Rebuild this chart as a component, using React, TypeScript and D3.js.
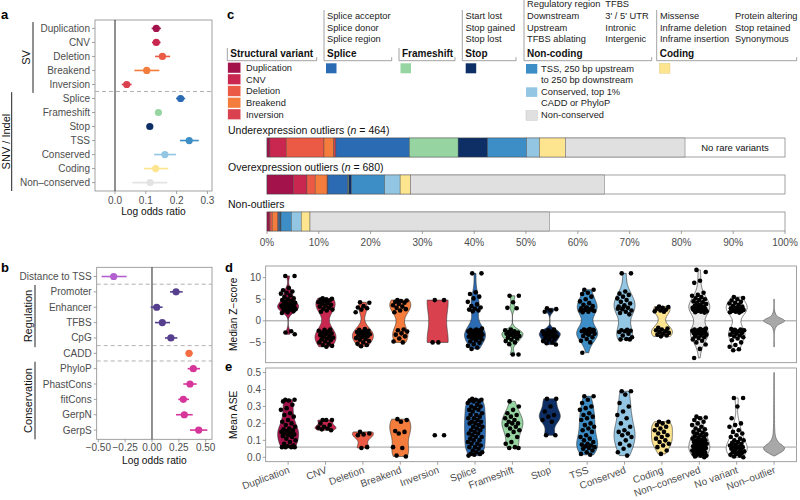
import React from "react";
import * as d3 from "d3";

const FONT = "'Liberation Sans', Arial, Helvetica, sans-serif";
const TXT = "#4d4d4d";

// ---------- panel a: log odds ratio, SV / SNV ----------
const aCats = ["Duplication", "CNV", "Deletion", "Breakend", "Inversion", "Splice", "Frameshift", "Stop", "TSS", "Conserved", "Coding", "Non\u2013conserved"];
const aEst = [0.134, 0.134, 0.154, 0.103, 0.038, 0.213, 0.141, 0.113, 0.241, 0.162, 0.132, 0.114];
const aLow = [0.119, 0.12, 0.13, 0.063, 0.022, 0.198, 0.133, 0.105, 0.211, 0.127, 0.094, 0.056];
const aHigh = [0.149, 0.148, 0.179, 0.144, 0.054, 0.228, 0.149, 0.121, 0.272, 0.198, 0.173, 0.17];
const aTicks = [0, 0.1, 0.2, 0.3];

// ---------- panel b: log odds ratio, annotations ----------
const bCats = ["Distance to TSS", "Promoter", "Enhancer", "TFBS", "CpG", "CADD", "PhyloP", "PhastCons", "fitCons", "GerpN", "GerpS"];
const bEst = [-0.357, 0.224, 0.044, 0.096, 0.176, 0.345, 0.385, 0.354, 0.292, 0.301, 0.435];
const bLow = [-0.469, 0.168, -0.012, 0.028, 0.121, 0.314, 0.332, 0.292, 0.245, 0.224, 0.354];
const bHigh = [-0.236, 0.286, 0.099, 0.168, 0.236, 0.379, 0.447, 0.416, 0.345, 0.379, 0.516];
const bColors = ["#b35fd0", "#553f8e", "#553f8e", "#553f8e", "#553f8e", "#f46d43", "#d6359a", "#d6359a", "#d6359a", "#d6359a", "#d6359a"];
const bTicks = [-0.5, -0.25, 0, 0.25, 0.5];

// ---------- panel c: stacked proportions (%) ----------
const varCats = ["Duplication", "CNV", "Deletion", "Breakend", "Inversion", "Splice", "Frameshift", "Stop", "TSS", "Conserved", "Coding", "Non-conserved"];
const varColors = ["#a3124a", "#c9274f", "#ea5a45", "#f47c3c", "#d9414f", "#2a6bb3", "#96d5a2", "#0d2f66", "#3d8ec6", "#93c6e3", "#fde48f", "#e0e0e0"];
const underPct = [0.56, 3.14, 7.3, 1.9, 0.4, 14.2, 9.4, 5.7, 7.5, 2.5, 5.0, 23.1];
const overPct = [5.1, 2.6, 1.6, 2.3, 0.15, 3.85, 0.2, 0.5, 6.4, 3.0, 2.0, 37.4];
const nonPct = [0.4, 0.2, 0.4, 1.1, 0.1, 0.3, 0.1, 0.1, 2.0, 1.9, 1.7, 46.2];
const pctTicks = [0, 10, 20, 30, 40, 50, 60, 70, 80, 90, 100];

// ---------- panels d / e ----------
const vCats = ["Duplication", "CNV", "Deletion", "Breakend", "Inversion", "Splice", "Frameshift", "Stop", "TSS", "Conserved", "Coding", "Non\u2013conserved", "No variant", "Non\u2013outlier"];
const vColors = ["#a3124a", "#c9274f", "#ea5a45", "#f47c3c", "#d9414f", "#2a6bb3", "#96d5a2", "#0d2f66", "#3d8ec6", "#93c6e3", "#fde48f", "#e8e8e8", "#ffffff", "#a8a8a8"];

const zDup = [10.4, 10.4, 7.6, 7.1, 6.8, 6.5, 6.3, 5.9, 5.5, 5.2, 5.0, 4.8, 4.6, 4.4, 4.2, 4.0, 3.9, 3.7, 3.6, 3.5, 3.4, 3.3, 3.2, 3.1, 3.0, 2.9, 2.8, 2.7, 2.6, 2.4, 2.2, 2.0, 1.8, -2.4, -2.7, -3.1];
const zCnv = [5.2, 5.1, 5.0, 4.9, 4.7, 4.5, 4.3, 4.1, 3.9, 3.7, 3.5, 3.3, 3.0, 2.8, 2.6, 2.4, 2.1, -2.0, -2.1, -2.3, -2.5, -2.7, -2.9, -3.1, -3.3, -3.5, -3.7, -3.9, -4.1, -4.3, -4.5, -4.8, -5.0, -5.3, -5.6, -5.8, -6.0];
const zDel = [4.3, 4.2, 3.4, 3.1, 2.9, 2.6, 2.0, -1.9, -2.1, -2.3, -2.5, -2.6, -2.8, -2.9, -3.1, -3.3, -3.4, -3.6, -3.8, -4.0, -4.2, -4.4, -4.7, -5.0, -5.3, -5.6, -5.9];
const zBrk = [4.8, 4.7, 4.6, 4.4, 4.2, 3.9, 3.6, 3.3, 3.0, 2.7, 2.4, 2.0, -2.0, -2.2, -2.5, -2.9, -3.2, -3.6, -4.1, -4.8, -5.0];
const zInv = [4.8, 4.8, -5.0, -5.0];
const zSplice = [11.0, 11.0, 6.6, 6.2, 5.6, 5.2, 4.4, 3.8, 3.4, 3.1, 2.8, 2.6, 2.4, 2.2, -1.8, -2.0, -2.1, -2.2, -2.3, -2.4, -2.5, -2.6, -2.7, -2.8, -2.9, -3.0, -3.1, -3.2, -3.3, -3.4, -3.5, -3.6, -3.7, -3.9, -4.1, -4.3, -4.5, -4.8, -5.1, -5.4, -5.8, -6.2, -6.5];
const zFrame = [5.8, 5.8, 4.3, 3.0, 2.9, -2.0, -2.2, -2.4, -2.6, -2.7, -2.9, -3.0, -3.2, -3.3, -3.5, -3.7, -3.9, -4.1, -4.4, -4.7, -5.0, -5.4, -7.8, -7.8];
const zStop = [2.9, 2.7, 2.4, 2.1, -2.0, -2.2, -2.4, -2.5, -2.7, -2.8, -3.0, -3.1, -3.3, -3.4, -3.6, -3.8, -4.0, -4.2, -4.4, -4.7, -5.0, -5.2, -5.5];
const zTss = [7.2, 7.2, 6.5, 6.2, 5.6, 5.0, 4.5, 4.1, 3.7, 3.4, 3.1, 2.9, 2.7, 2.5, 2.3, 2.1, 2.0, 2.6, 3.0, 2.4, -1.9, -2.0, -2.1, -2.2, -2.4, -2.6, -2.8, -3.0, -3.2, -3.5, -3.8, -4.2, -4.6, -5.0, -2.5, -2.3, -3.1, -7.4];
const zCons = [11.0, 11.0, 6.8, 6.3, 6.0, 5.6, 5.2, 4.8, 4.4, 4.0, 3.6, 3.3, 3.0, 2.7, 2.4, 2.1, 1.8, 1.5, 3.2, 2.8, -2.1, -2.2, -2.3, -2.4, -2.6, -3.0, -3.4, -3.8, -4.2, -4.3, -4.3];
const zCoding = [3.3, 3.2, 3.0, 2.8, 2.6, 2.4, 2.2, 2.1, -1.6, -1.8, -2.0, -2.2, -2.4, -2.6, -2.8, -3.0, -3.2, -3.4, -3.6];
const zNoncons = [11.8, 11.3, 9.3, 8.8, 6.5, 6.0, 5.8, 5.5, 5.2, 5.0, 4.8, 4.5, 4.3, 4.1, 3.9, 3.7, 3.5, 3.3, 3.2, 3.0, 2.9, 2.8, 2.7, 2.6, 2.5, 2.4, 2.3, 2.2, 2.1, 2.0, 1.9, 2.5, 2.7, 3.1, 2.4, -1.8, -1.9, -2.0, -2.1, -2.2, -2.3, -2.4, -2.5, -2.6, -2.7, -2.8, -2.9, -3.0, -3.2, -3.4, -3.6, -3.8, -4.0, -4.3, -4.6, -5.0, -5.5, -6.5, -8.6, -2.2, -2.5];
const zNovar = [5.5, 5.3, 5.0, 4.7, 4.4, 4.2, 4.0, 3.7, 3.5, 3.3, 3.1, 2.9, 2.7, 2.6, 2.5, 2.4, 2.3, 2.2, 2.1, 2.0, 1.9, 2.5, 2.8, 3.0, -1.9, -2.0, -2.1, -2.2, -2.4, -2.6, -2.8, -3.0, -3.2, -3.4, -3.6, -3.8, -4.1, -4.5, -5.0, -5.6, -6.0, -6.6, -6.8, -2.3, -2.7];
// non-outliers: density profile only (value, relative width)
const zNonOutlier: [number, number][] = [[-6, 0.03], [-2.5, 0.04], [-1.2, 0.25], [0, 1], [1.2, 0.25], [2.5, 0.04], [5, 0.03]];

const eDup = [0.34, 0.34, 0.335, 0.33, 0.31, 0.29, 0.28, 0.26, 0.25, 0.24, 0.22, 0.21, 0.2, 0.19, 0.18, 0.17, 0.165, 0.16, 0.155, 0.15, 0.145, 0.14, 0.135, 0.13, 0.125, 0.12, 0.11, 0.1, 0.09, 0.08, 0.07, 0.065, 0.06, 0.06, 0.06, 0.06];
const eCnv = [0.22, 0.22, 0.22, 0.2, 0.19, 0.18, 0.175, 0.17, 0.165, 0.16];
const eDel = [0.15, 0.14, 0.135, 0.13, 0.06, 0.055];
const eBrk = [0.225, 0.22, 0.21, 0.155, 0.15, 0.14, 0.06, 0.055, 0.01, 0.005];
const eInv = [0.13, 0.13];
const eSplice = [0.345, 0.34, 0.34, 0.335, 0.33, 0.33, 0.32, 0.31, 0.3, 0.3, 0.29, 0.28, 0.28, 0.27, 0.26, 0.25, 0.25, 0.24, 0.23, 0.23, 0.22, 0.21, 0.21, 0.2, 0.2, 0.19, 0.18, 0.18, 0.17, 0.16, 0.16, 0.15, 0.14, 0.14, 0.13, 0.12, 0.12, 0.11, 0.1, 0.1, 0.09, 0.08, 0.08, 0.07, 0.06, 0.06, 0.05, 0.04, 0.03, 0.03, 0.02, 0.02, 0.015, 0.01];
const eFrame = [0.33, 0.3, 0.28, 0.26, 0.25, 0.24, 0.23, 0.22, 0.21, 0.2, 0.2, 0.19, 0.18, 0.17, 0.16, 0.15, 0.13, 0.12, 0.09, 0.08, 0.06, 0.055, 0.055];
const eStop = [0.345, 0.345, 0.3, 0.27, 0.25, 0.24, 0.22, 0.21, 0.13, 0.13];
const eTss = [0.36, 0.36, 0.34, 0.32, 0.3, 0.29, 0.28, 0.26, 0.25, 0.24, 0.23, 0.22, 0.2, 0.19, 0.18, 0.17, 0.16, 0.15, 0.13, 0.12, 0.11, 0.1, 0.09, 0.08, 0.075, 0.07, 0.065, 0.06, 0.055, 0.05, 0.04, 0.03, 0.02, 0.015];
const eCons = [0.39, 0.39, 0.37, 0.32, 0.3, 0.27, 0.25, 0.23, 0.2, 0.18, 0.16, 0.15, 0.14, 0.13, 0.12, 0.1, 0.08, 0.07, 0.05, 0.03, 0.01];
const eCoding = [0.21, 0.21, 0.2, 0.19, 0.18, 0.17, 0.16, 0.15, 0.14, 0.13, 0.12, 0.11, 0.1, 0.09, 0.08, 0.07, 0.06, 0.04, 0.02];
const eNoncons = [0.24, 0.235, 0.23, 0.22, 0.21, 0.2, 0.19, 0.18, 0.17, 0.165, 0.16, 0.15, 0.145, 0.14, 0.135, 0.13, 0.125, 0.12, 0.115, 0.11, 0.105, 0.1, 0.1, 0.095, 0.09, 0.09, 0.085, 0.08, 0.08, 0.075, 0.07, 0.07, 0.065, 0.06, 0.06, 0.055, 0.05, 0.05, 0.045, 0.04, 0.04, 0.035, 0.03, 0.03, 0.025, 0.02, 0.02, 0.015, 0.01, 0.01, 0.005, 0.0];
const eNovar = [0.35, 0.35, 0.3, 0.23, 0.2, 0.19, 0.18, 0.16, 0.15, 0.14, 0.13, 0.12, 0.11, 0.1, 0.1, 0.09, 0.085, 0.08, 0.075, 0.07, 0.065, 0.06, 0.06, 0.055, 0.05, 0.045, 0.04, 0.035, 0.03, 0.03, 0.025, 0.02, 0.015, 0.01, 0.005, 0.0];
const eNonOutlier: [number, number][] = [[0.008, 0.05], [0.02, 0.4], [0.04, 0.9], [0.055, 1], [0.07, 0.8], [0.09, 0.4], [0.12, 0.15], [0.16, 0.07], [0.25, 0.04], [0.5, 0.02]];

const zData = [zDup, zCnv, zDel, zBrk, zInv, zSplice, zFrame, zStop, zTss, zCons, zCoding, zNoncons, zNovar];
const eData = [eDup, eCnv, eDel, eBrk, eInv, eSplice, eFrame, eStop, eTss, eCons, eCoding, eNoncons, eNovar];

// gaussian kernel density, nrd0 bandwidth, trimmed to data range
function density(values: number[]): [number, number][] {
  const s = values.slice().sort(d3.ascending);
  const sd = d3.deviation(s) || 0;
  const iqr = ((d3.quantile(s, 0.75) as number) - (d3.quantile(s, 0.25) as number)) / 1.34;
  const spread = Math.min(sd, iqr > 0 ? iqr : sd) || 1e-3;
  const bw = 0.9 * spread * Math.pow(s.length, -0.2);
  const lo = s[0], hi = s[s.length - 1];
  return d3.range(61).map((i) => {
    const v = lo + ((hi - lo) * i) / 60;
    return [v, d3.sum(s, (x) => Math.exp(-0.5 * ((v - x) / bw) ** 2))] as [number, number];
  });
}

const jitter = (i: number) => ((((i * 0.618034 + 0.31) % 1) + 1) % 1) - 0.5;

function Forest(p: {
  cats: string[]; est: number[]; low: number[]; high: number[]; colors: string[];
  x0: number; x1: number; y0: number; y1: number; domain: [number, number];
  ticks: number[]; fmt: (v: number) => string; dashAfter: number[];
  groups: { label: string; from: number; to: number; lineX: number; textX: number }[];
  tickY: number; titleY: number;
}) {
  const x = d3.scaleLinear().domain(p.domain).range([p.x0, p.x1]);
  const y = d3.scalePoint<string>().domain(p.cats).range([p.y0, p.y1]).padding(0.6);
  const step = y.step();
  return (
    <g>
      <rect x={p.x0} y={p.y0} width={p.x1 - p.x0} height={p.y1 - p.y0} fill="none" stroke="#8a8a8a" strokeWidth={0.8} />
      {p.dashAfter.map((i) => {
        const yy = ((y(p.cats[i]) as number) + (y(p.cats[i + 1]) as number)) / 2;
        return <line key={i} x1={p.x0} x2={p.x1} y1={yy} y2={yy} stroke="#a8a8a8" strokeWidth={0.9} strokeDasharray="4,3" />;
      })}
      <line x1={x(0)} x2={x(0)} y1={p.y0} y2={p.y1} stroke="#222" strokeWidth={1} />
      {p.ticks.map((t) => (
        <g key={t}>
          <line x1={x(t)} x2={x(t)} y1={p.y1} y2={p.y1 + 3} stroke="#8a8a8a" strokeWidth={0.8} />
          <text x={x(t)} y={p.tickY} textAnchor="middle" fontSize={10} fill={TXT}>{p.fmt(t)}</text>
        </g>
      ))}
      <text x={(p.x0 + p.x1) / 2} y={p.titleY} textAnchor="middle" fontSize={10.2} fill="#111">Log odds ratio</text>
      {p.cats.map((c, i) => {
        const yy = y(c) as number;
        return (
          <g key={c}>
            <line x1={p.x0 - 3} x2={p.x0} y1={yy} y2={yy} stroke="#8a8a8a" strokeWidth={0.8} />
            <text x={p.x0 - 5} y={yy + 3.5} textAnchor="end" fontSize={10} fill={TXT}>{c}</text>
            <line x1={x(p.low[i])} x2={x(p.high[i])} y1={yy} y2={yy} stroke={p.colors[i]} strokeWidth={1.6} />
            <circle cx={x(p.est[i])} cy={yy} r={3.6} fill={p.colors[i]} />
          </g>
        );
      })}
      {p.groups.map((g) => {
        const top = (y(p.cats[g.from]) as number) - step * 0.45;
        const bot = (y(p.cats[g.to]) as number) + step * 0.6;
        return (
          <g key={g.label}>
            <line x1={g.lineX} x2={g.lineX} y1={top} y2={bot} stroke="#222" strokeWidth={1} />
            <text transform={`translate(${g.textX},${(top + bot) / 2}) rotate(-90)`} textAnchor="middle" dominantBaseline="central" fontSize={11} fill="#111">{g.label}</text>
          </g>
        );
      })}
    </g>
  );
}

function PanelC() {
  const x = d3.scaleLinear().domain([0, 100]).range([267, 785]);
  const bars = [
    { pct: underPct, y: 138, title: "Underexpression outliers", n: "464" },
    { pct: overPct, y: 175, title: "Overexpression outliers", n: "680" },
    { pct: nonPct, y: 212, title: "Non-outliers", n: "" },
  ];
  const h = 19;
  const legendGroups = [
    { title: "Structural variant", x: 227.3, x2: 316.7, top: 48, cols: [] as { x: number; lines: string[] }[] },
    { title: "Splice", x: 324, x2: 391.7, top: 10, cols: [{ x: 327, lines: ["Splice acceptor", "Splice donor", "Splice region"] }] },
    { title: "Frameshift", x: 399, x2: 455, top: 48, cols: [] },
    { title: "Stop", x: 462.3, x2: 516, top: 10, cols: [{ x: 465.5, lines: ["Start lost", "Stop gained", "Stop lost"] }] },
    { title: "Non-coding", x: 524, x2: 651.7, top: 0, cols: [{ x: 527, lines: ["Regulatory region", "Downstream", "Upstream", "TFBS ablating"] }, { x: 605.3, lines: ["TFBS", "3' / 5' UTR", "Intronic", "Intergenic"] }] },
    { title: "Coding", x: 656.7, x2: 796.7, top: 10, cols: [{ x: 660, lines: ["Missense", "Inframe deletion", "Inframe insertion"] }, { x: 735, lines: ["Protein altering", "Stop retained", "Synonymous"] }] },
  ];
  const lineYs4 = [7.4, 19, 31, 42.3];
  const lineYs3 = [19, 31, 42.3];
  const bracketY = 60.7;
  const svY = [67.7, 79.3, 91, 102.7, 114.3];
  return (
    <g>
      {legendGroups.map((g) => (
        <g key={g.title}>
          <path d={`M${g.x},${g.top}V${bracketY}H${g.x2}V${bracketY - 3.5}`} fill="none" stroke="#8a8a8a" strokeWidth={0.8} />
          <text x={g.x + 3} y={56.6} fontSize={10} fontWeight="bold" fill="#111">{g.title}</text>
          {g.cols.map((c) =>
            c.lines.map((l, i) => (
              <text key={c.x + l} x={c.x} y={(c.lines.length === 4 ? lineYs4 : lineYs3)[i]} fontSize={9.3} fill="#222">{l}</text>
            ))
          )}
        </g>
      ))}
      {/* structural variant swatches */}
      {varCats.slice(0, 5).map((c, i) => (
        <g key={c}>
          <rect x={227.8} y={svY[i] - 5.3} width={13} height={10.6} fill={varColors[i]} stroke="#fff" strokeWidth={0.4} />
          <text x={246} y={svY[i] + 3.3} fontSize={9.3} fill="#222">{c}</text>
        </g>
      ))}
      <rect x={326} y={63.3} width={10.5} height={10} fill={varColors[5]} />
      <rect x={400.5} y={63.3} width={10.5} height={10} fill={varColors[6]} />
      <rect x={465.7} y={63.3} width={10.5} height={10} fill={varColors[7]} />
      <rect x={526} y={64} width={11.3} height={9.6} fill={varColors[8]} />
      <rect x={526} y={87.3} width={11.3} height={9.6} fill={varColors[9]} />
      <rect x={526} y={110.7} width={11.3} height={9.6} fill={varColors[11]} stroke="#bbb" strokeWidth={0.4} />
      <rect x={659.3} y={63.3} width={10.7} height={10} fill={varColors[10]} stroke="#d9c27a" strokeWidth={0.4} />
      <text x={541} y={72} fontSize={9.3} fill="#222">TSS, 250 bp upstream</text>
      <text x={541} y={83.4} fontSize={9.3} fill="#222">to 250 bp downstream</text>
      <text x={541} y={94.7} fontSize={9.3} fill="#222">Conserved, top 1%</text>
      <text x={541} y={106} fontSize={9.3} fill="#222">CADD or PhyloP</text>
      <text x={541} y={118.4} fontSize={9.3} fill="#222">Non-conserved</text>

      {bars.map((b) => {
        let acc = 0;
        const segs = b.pct.map((v, i) => {
          const s = { x0: acc, x1: acc + v, c: varColors[i], k: i };
          acc += v;
          return s;
        });
        return (
          <g key={b.title}>
            <text x={228} y={b.y - 4.5} fontSize={10.5} fill="#111">
              {b.title}
              {b.n && <tspan> (</tspan>}
              {b.n && <tspan fontStyle="italic">n</tspan>}
              {b.n && <tspan>{` = ${b.n})`}</tspan>}
            </text>
            <rect x={x(0)} y={b.y} width={x(100) - x(0)} height={h} fill="#fff" stroke="#8a8a8a" strokeWidth={0.8} />
            {segs.map((s) => (
              <rect key={s.k} x={x(s.x0)} y={b.y} width={x(s.x1) - x(s.x0)} height={h} fill={s.c} stroke="#444" strokeWidth={0.4} />
            ))}
          </g>
        );
      })}
      <text x={(x(d3.sum(underPct)) + x(100)) / 2} y={151} textAnchor="middle" fontSize={9.5} fill="#111">No rare variants</text>
      {pctTicks.map((t) => (
        <g key={t}>
          <line x1={x(t)} x2={x(t)} y1={231} y2={234} stroke="#8a8a8a" strokeWidth={0.8} />
          <text x={x(t)} y={245.5} textAnchor="middle" fontSize={10} fill={TXT}>{`${t}%`}</text>
        </g>
      ))}
    </g>
  );
}

function ViolinPanel(p: {
  data: number[][]; profile: [number, number][]; y0: number; y1: number; domain: [number, number];
  ticks: number[]; fmt: (v: number) => string; refLine: number; refColor: string; refWidth: number;
  title: string; showX: boolean;
}) {
  const x = d3.scalePoint<string>().domain(vCats).range([265.7, 796.5]).padding(0.6);
  const y = d3.scaleLinear().domain(p.domain).range([p.y1, p.y0]);
  const maxHalf = 10.5;
  const jw = 7.5;
  const area = (cx: number, prof: [number, number][]) => {
    const m = d3.max(prof, (d) => d[1]) || 1;
    return d3
      .area<[number, number]>()
      .y((d) => y(d[0]))
      .x0((d) => cx - (maxHalf * d[1]) / m)
      .x1((d) => cx + (maxHalf * d[1]) / m)
      .curve(d3.curveCatmullRom)(prof) as string;
  };
  return (
    <g>
      <rect x={265.7} y={p.y0} width={796.5 - 265.7} height={p.y1 - p.y0} fill="none" stroke="#8a8a8a" strokeWidth={0.8} />
      <line x1={265.7} x2={796.5} y1={y(p.refLine)} y2={y(p.refLine)} stroke={p.refColor} strokeWidth={p.refWidth} />
      {p.ticks.map((t) => (
        <g key={t}>
          <line x1={262.7} x2={265.7} y1={y(t)} y2={y(t)} stroke="#8a8a8a" strokeWidth={0.8} />
          <text x={261} y={y(t) + 3.5} textAnchor="end" fontSize={10} fill={TXT}>{p.fmt(t)}</text>
        </g>
      ))}
      <text transform={`translate(237,${(p.y0 + p.y1) / 2}) rotate(-90)`} textAnchor="middle" fontSize={10.2} fill="#111">{p.title}</text>
      {vCats.map((c, i) => {
        const cx = x(c) as number;
        const vals = p.data[i];
        if (!vals) {
          return <path key={c} d={area(cx, p.profile)} fill={vColors[i]} stroke="#555" strokeWidth={0.6} />;
        }
        return (
          <g key={c}>
            {vals.length > 2 && <path d={area(cx, density(vals))} fill={vColors[i]} stroke="#333" strokeWidth={0.6} />}
            {vals.map((v, j) => (
              <circle key={j} cx={cx + jitter(j) * 2 * jw} cy={y(v)} r={2.3} fill="#000" />
            ))}
          </g>
        );
      })}
      {p.showX &&
        vCats.map((c) => {
          const cx = x(c) as number;
          return (
            <g key={c}>
              <line x1={cx} x2={cx} y1={p.y1} y2={p.y1 + 3} stroke="#8a8a8a" strokeWidth={0.8} />
              <text transform={`translate(${cx + 2},${p.y1 + 11}) rotate(-20)`} textAnchor="end" fontSize={10} fill={TXT}>{c}</text>
            </g>
          );
        })}
    </g>
  );
}

export default function App() {
  return (
    <svg width={800} height={500} style={{ position: "absolute", left: 0, top: 0, background: "#fff" }} fontFamily={FONT}>
      <text x={1} y={18.5} fontSize={13} fontWeight="bold">a</text>
      <text x={1} y={271.5} fontSize={13} fontWeight="bold">b</text>
      <text x={227} y={19.3} fontSize={13} fontWeight="bold">c</text>
      <text x={225} y={272} fontSize={13} fontWeight="bold">d</text>
      <text x={225} y={371} fontSize={13} fontWeight="bold">e</text>
      <Forest
        cats={aCats} est={aEst} low={aLow} high={aHigh} colors={vColors.slice(0, 11).concat(["#e3e3e3"])}
        x0={95} x1={212} y0={20} y1={191} domain={[-0.065, 0.315]} ticks={aTicks} fmt={d3.format(".1f")}
        dashAfter={[4]} tickY={203.5} titleY={215}
        groups={[
          { label: "SV", from: 0, to: 4, lineX: 33, textX: 26 },
          { label: "SNV / Indel", from: 5, to: 11, lineX: 11.7, textX: 5.5 },
        ]}
      />
      <Forest
        cats={bCats} est={bEst} low={bLow} high={bHigh} colors={bColors}
        x0={96.7} x1={212} y0={267.3} y1={439.3} domain={[-0.515, 0.559]} ticks={bTicks}
        fmt={(v) => d3.format(".2f")(v).replace("-", "\u2212")}
        dashAfter={[0, 4, 5]} tickY={451} titleY={463.5}
        groups={[
          { label: "Regulation", from: 1, to: 4, lineX: 35, textX: 28 },
          { label: "Conservation", from: 6, to: 10, lineX: 35, textX: 28 },
        ]}
      />
      <PanelC />
      <ViolinPanel
        data={zData} profile={zNonOutlier} y0={266} y1={362.7} domain={[-9.7, 12.7]} ticks={[-5, 0, 5, 10]}
        fmt={(v) => String(v).replace("-", "\u2212")} refLine={0} refColor="#9a9a9a" refWidth={1}
        title={"Median Z\u2212score"} showX={false}
      />
      <ViolinPanel
        data={eData} profile={eNonOutlier} y0={368} y1={461.7} domain={[-0.026, 0.527]} ticks={[0, 0.1, 0.2, 0.3, 0.4, 0.5]}
        fmt={d3.format(".1f")} refLine={0.06} refColor="#c8c8c8" refWidth={1.8}
        title="Mean ASE" showX={true}
      />
    </svg>
  );
}
